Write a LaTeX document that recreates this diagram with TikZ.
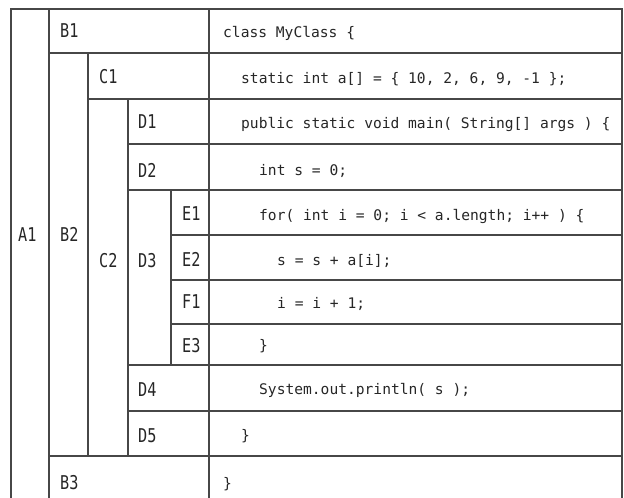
\documentclass[tikz,border=0pt]{standalone}
\usepackage{fontspec}
\newfontfamily\codefont{DejaVu Sans Mono}
\newfontfamily\labelfont[FakeStretch=0.8]{DejaVu Sans Mono}
\tikzset{
  grid line/.style={draw=black!72, line width=1.1pt},
  blocklabel/.style={anchor=base west, inner sep=0pt, font=\labelfont\fontsize{19}{19}\selectfont, text=black!85},
  codeline/.style={anchor=base west, inner sep=0pt, font=\codefont\fontsize{14.6}{14.6}\selectfont, text=black!85},
}
\begin{document}
\begin{tikzpicture}[x=1pt, y=-1pt]
\useasboundingbox (0,0) rectangle (624,498);

% outer frame and main columns (open at the bottom)
\draw[grid line] (11,498) -- (11,9) -- (622,9) -- (622,498);
\draw[grid line] (49,9) -- (49,498);
\draw[grid line] (209,9) -- (209,498);

% level B rows
\draw[grid line] (49,53) -- (622,53);
\draw[grid line] (49,456) -- (622,456);
\draw[grid line] (88,53) -- (88,456);

% level C rows
\draw[grid line] (88,99) -- (622,99);
\draw[grid line] (128,99) -- (128,456);

% level D rows
\foreach \yy in {144,190,365,411}
  \draw[grid line] (128,\yy) -- (622,\yy);
\draw[grid line] (171,190) -- (171,365);

% level E rows
\foreach \yy in {235,280,324}
  \draw[grid line] (171,\yy) -- (622,\yy);

% block labels
\node[blocklabel] (A1) at (18,241) {A1};
\node[blocklabel] (B1) at (60,37) {B1};
\node[blocklabel] (B2) at (60,241) {B2};
\node[blocklabel] (B3) at (60,489) {B3};
\node[blocklabel] (C1) at (99,83) {C1};
\node[blocklabel] (C2) at (99,267) {C2};
\node[blocklabel] (D1) at (138,128) {D1};
\node[blocklabel] (D2) at (138,177) {D2};
\node[blocklabel] (D3) at (138,267) {D3};
\node[blocklabel] (D4) at (138,396) {D4};
\node[blocklabel] (D5) at (138,442) {D5};
\node[blocklabel] (E1) at (182,220) {E1};
\node[blocklabel] (E2) at (182,266) {E2};
\node[blocklabel] (F1) at (182,308) {F1};
\node[blocklabel] (E3) at (182,352) {E3};

% source code column
\node[codeline] (L1)  at (223,37.5) {class MyClass \{};
\node[codeline] (L2)  at (241,83)   {static int a[] = \{ 10, 2, 6, 9, -1 \};};
\node[codeline] (L3)  at (241,128)  {public static void main( String[] args ) \{};
\node[codeline] (L4)  at (259,175)  {int s = 0;};
\node[codeline] (L5)  at (259,220)  {for( int i = 0; i < a.length; i++ ) \{};
\node[codeline] (L6)  at (277,265)  {s = s + a[i];};
\node[codeline] (L7)  at (277,308)  {i = i + 1;};
\node[codeline] (L8)  at (259,350)  {\}};
\node[codeline] (L9)  at (259,394)  {System.out.println( s );};
\node[codeline] (L10) at (241,440)  {\}};
\node[codeline] (L11) at (223,488)  {\}};
\end{tikzpicture}
\end{document}
